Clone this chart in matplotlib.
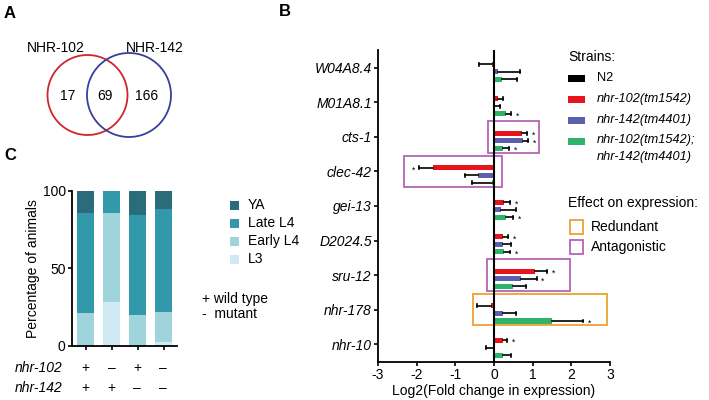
import matplotlib
matplotlib.use("Agg")
import matplotlib.pyplot as plt
from matplotlib.patches import Circle, Rectangle
import numpy as np

plt.rcParams['font.family'] = ['Liberation Sans', 'DejaVu Sans']

# panel A - venn counts
venn_names = ["NHR-102", "NHR-142"]
venn_counts = [17, 69, 166]

# panel B - qPCR fold changes
genes = ["W04A8.4", "M01A8.1", "cts-1", "clec-42", "gei-13", "D2024.5", "sru-12", "nhr-178", "nhr-10"]
strains = ["N2", "nhr-102(tm1542)", "nhr-142(tm4401)", "nhr-102(tm1542);\nnhr-142(tm4401)"]
n2_val = [0, 0, 0, 0, 0, 0, 0, 0, 0]
red_val = [-0.05, 0.10, 0.72, -1.58, 0.26, 0.24, 1.07, -0.09, 0.24]
red_err = [0.35, 0.14, 0.13, 0.35, 0.15, 0.13, 0.31, 0.36, 0.10]
blue_val = [0.10, 0.0, 0.75, -0.41, 0.17, 0.24, 0.70, 0.22, -0.02]
blue_err = [0.57, 0.15, 0.13, 0.34, 0.40, 0.21, 0.40, 0.34, 0.18]
green_val = [0.20, 0.30, 0.24, -0.05, 0.31, 0.26, 0.48, 1.51, 0.24]
green_err = [0.40, 0.15, 0.16, 0.53, 0.19, 0.15, 0.35, 0.79, 0.20]
# significant (gene index, strain index)
stars = [(1, 3), (2, 1), (2, 2), (2, 3), (3, 1), (4, 1), (4, 3), (5, 1), (5, 3), (6, 1), (6, 2), (7, 3), (8, 1)]
# boxes: gene index, x start, x end, type
boxes = [(2, -0.16, 1.17, "Antagonistic"), (3, -2.34, 0.20, "Antagonistic"),
         (6, -0.19, 1.96, "Antagonistic"), (7, -0.55, 2.93, "Redundant")]

# panel C - stage percentages
genotype_102 = ["+", "\u2013", "+", "\u2013"]
genotype_142 = ["+", "+", "\u2013", "\u2013"]
stages = ["L3", "Early L4", "Late L4", "YA"]
L3 = [0, 28.4, 0, 2.2]
early_L4 = [20.9, 57.4, 19.8, 19.3]
late_L4 = [64.5, 14.2, 64.5, 66.7]
YA = [14.6, 0, 15.7, 11.8]

strain_colors = ["#000000", "#e8141c", "#5c5fae", "#2fb36b"]
box_colors = {"Redundant": "#f0a030", "Antagonistic": "#b563b5"}
stage_colors = ["#cfeaf5", "#a0d4dc", "#3299aa", "#2a6c79"]

W, H = 709, 400
fig = plt.figure(figsize=(W / 100, H / 100), dpi=100)
ov = fig.add_axes([0, 0, 1, 1])
ov.set_xlim(0, W)
ov.set_ylim(H, 0)
ov.axis("off")

fs = 10

# ---- panel A
ov.text(4, 13, "A", fontsize=12, fontweight="bold", va="center")
ov.add_patch(Circle((87.5, 95), 40, fill=False, ec="#d0262b", lw=1.3))
ov.add_patch(Circle((129, 95), 42, fill=False, ec="#3a3f98", lw=1.3))
ov.text(56, 48, venn_names[0], fontsize=fs, ha="center", va="center")
ov.text(155, 48, venn_names[1], fontsize=fs, ha="center", va="center")
for x, c in zip([68, 105, 147], venn_counts):
    ov.text(x, 96, str(c), fontsize=fs, ha="center", va="center")

# ---- panel B
ov.text(279, 11, "B", fontsize=12, fontweight="bold", va="center")
axb = fig.add_axes([378 / W, 1 - 362 / H, 232 / W, 312 / H])
y = np.arange(len(genes))
step = 0.22
vals = [n2_val, red_val, blue_val, green_val]
errs = [[0] * 9, red_err, blue_err, green_err]
for i in range(4):
    yy = y + (i - 1.5) * step
    axb.barh(yy, vals[i], height=0.15, color=strain_colors[i], zorder=2)
    if i == 0:
        continue
    for g in range(len(genes)):
        v = vals[i][g]
        e = errs[i][g]
        end = v + e if v >= 0 else v - e
        axb.plot([v, end], [yy[g], yy[g]], color="black", lw=1.2, zorder=3)
        axb.plot([end, end], [yy[g] - 0.04, yy[g] + 0.04], color="black", lw=1.2, zorder=3)
for g, s in stars:
    v = vals[s][g]
    e = errs[s][g]
    if v >= 0:
        axb.text(v + e + 0.12, y[g] + (s - 1.5) * step + 0.06, "*", fontsize=6.2, ha="left", va="center")
    else:
        axb.text(v - e - 0.12, y[g] + (s - 1.5) * step + 0.06, "*", fontsize=6.2, ha="right", va="center")
for g, x0, x1, kind in boxes:
    axb.add_patch(Rectangle((x0, g - 0.46), x1 - x0, 0.92, fill=False,
                            ec=box_colors[kind], lw=1.3, clip_on=False, zorder=4))
axb.axvline(0, color="black", lw=1.5, zorder=5)
axb.set_xlim(-3, 3)
axb.set_ylim(8.52, -0.52)
axb.set_yticks(y)
axb.set_yticklabels(genes, fontsize=fs, style="italic")
axb.set_xticks([-3, -2, -1, 0, 1, 2, 3])
axb.set_xticklabels(["-3", "-2", "-1", "0", "1", "2", "3"], fontsize=fs)
axb.set_xlabel("Log2(Fold change in expression)", fontsize=fs, labelpad=1)
for sp in ["top", "right"]:
    axb.spines[sp].set_visible(False)
for sp in ["left", "bottom"]:
    axb.spines[sp].set_linewidth(1.3)
axb.tick_params(width=1.2, length=3, pad=1.5)
axb.patch.set_alpha(0)

# legend B
ov.text(568, 57, "Strains:", fontsize=fs, va="center")
ly = [78, 99, 120, 141]
for i, s in enumerate(strains):
    ov.add_patch(Rectangle((568, ly[i] - 3.5), 17, 7, color=strain_colors[i], lw=0))
    if "\n" in s:
        ov.text(597, ly[i] - 7, s, fontsize=9.2, va="top", style="italic", linespacing=1.55)
    else:
        ov.text(597, ly[i], s, fontsize=9.2, va="center",
                style="normal" if s == "N2" else "italic")
ov.text(568, 203, "Effect on expression:", fontsize=fs, va="center")
for yy, kind in zip([227, 247], ["Redundant", "Antagonistic"]):
    ov.add_patch(Rectangle((570, yy - 7), 13, 14, fill=False, ec=box_colors[kind], lw=1.3))
    ov.text(591, yy, kind, fontsize=fs, va="center")

# ---- panel C
ov.text(4, 155, "C", fontsize=12, fontweight="bold", va="center")
axc = fig.add_axes([72 / W, 1 - 345.7 / H, 105 / W, 155 / H])
x = np.arange(4)
bottom = np.zeros(4)
for st, data, col in zip(stages, [L3, early_L4, late_L4, YA], stage_colors):
    axc.bar(x, data, bottom=bottom, width=0.65, color=col, label=st)
    bottom += np.array(data)
axc.set_xlim(-0.53, 3.51)
axc.set_ylim(0, 100)
axc.set_yticks([0, 50, 100])
axc.set_yticklabels(["0", "50", "100"], fontsize=fs)
axc.set_xticks(x)
axc.set_xticklabels([])
axc.set_ylabel("Percentage of animals", fontsize=fs, labelpad=2)
for sp in ["top", "right"]:
    axc.spines[sp].set_visible(False)
for sp in ["left", "bottom"]:
    axc.spines[sp].set_linewidth(1.3)
axc.tick_params(width=1.2, length=3, pad=1.5)

bar_px = [85.7, 111.7, 137.3, 163.3]
ov.text(63, 368, "nhr-102", fontsize=fs, style="italic", ha="right", va="center")
ov.text(63, 388, "nhr-142", fontsize=fs, style="italic", ha="right", va="center")
for bx, a, b in zip(bar_px, genotype_102, genotype_142):
    ov.text(bx, 368, a, fontsize=fs, ha="center", va="center")
    ov.text(bx, 388, b, fontsize=fs, ha="center", va="center")

# legend C
cy = [205, 223, 241, 259]
for yy, st, col in zip(cy, stages[::-1], stage_colors[::-1]):
    ov.add_patch(Rectangle((230, yy - 4.5), 9, 9, color=col, lw=0))
    ov.text(248, yy, st, fontsize=fs, va="center")
ov.text(202, 299, "+ wild type", fontsize=fs, va="center")
ov.text(202, 314, "-  mutant", fontsize=fs, va="center")

fig.savefig("out.png", dpi=100)
